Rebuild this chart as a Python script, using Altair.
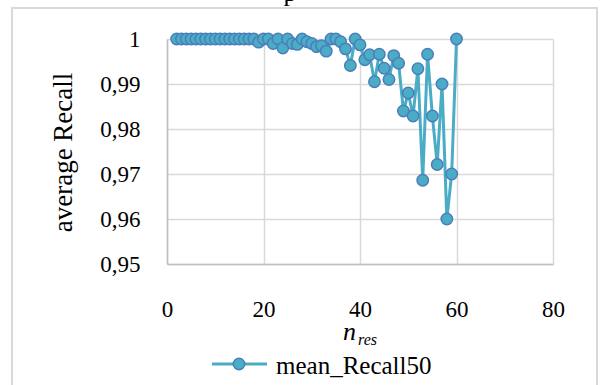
import altair as alt
import pandas as pd

# ---- data ----
n_res = [2, 3, 4, 5, 6, 7, 8, 9, 10, 11, 12, 13, 14, 15, 16, 17, 18, 19, 20,
         21, 22, 23, 24, 25, 26, 27, 28, 29, 30, 31, 32, 33, 34, 35, 36, 37, 38, 39, 40,
         41, 42, 43, 44, 45, 46, 47, 48, 49, 50, 51, 52, 53, 54, 55, 56, 57, 58, 59, 60]
recall = [1.0, 1.0, 1.0, 1.0, 1.0, 1.0, 1.0, 1.0, 1.0, 1.0, 1.0, 1.0, 1.0, 1.0, 1.0, 1.0, 1.0, 0.9993, 1.0,
          1.0, 0.999, 1.0, 0.998, 1.0, 0.999, 0.9988, 1.0, 0.9994, 0.999, 0.9983, 0.9985, 0.9973, 1.0, 1.0, 0.9994, 0.9978, 0.9941, 1.0, 0.9987,
          0.9954, 0.9965, 0.9905, 0.9966, 0.9935, 0.991, 0.9963, 0.9946, 0.984, 0.988, 0.9829, 0.9934, 0.9686, 0.9966, 0.9829, 0.9721, 0.990, 0.960, 0.970, 1.0]
y_ticks = [0.95, 0.96, 0.97, 0.98, 0.99, 1.0]
x_ticks = [0, 20, 40, 60, 80]
series_name = "mean_Recall50"
y_title = "average Recall"
x_title_main = "n"
x_title_sub = "res"
title_fragment = "p"

df = pd.DataFrame({"n_res": n_res, "recall": recall})
one = pd.DataFrame({"k": [0]})

FONT = "Liberation Serif"
LINE = "#4bacc6"
MARK_STROKE = "#4a7ebb"
GRID = "#d9d9d9"
AXIS = "#bfbfbf"

x_enc = alt.X(
    "n_res:Q",
    scale=alt.Scale(domain=[0, 80], nice=False, zero=False),
    axis=alt.Axis(values=x_ticks, title=None, grid=True, gridColor=GRID, gridWidth=1.5,
                  domainColor=AXIS, domainWidth=1.5, ticks=False,
                  labelFont=FONT, labelFontSize=23, labelColor="black",
                  labelPadding=52, labelBaseline="alphabetic", labelFlush=False),
)
y_enc = alt.Y(
    "recall:Q",
    scale=alt.Scale(domain=[0.95, 1.0], nice=False, zero=False),
    axis=alt.Axis(values=y_ticks, title=y_title, grid=True, gridColor=GRID, gridWidth=1.5,
                  domainColor=AXIS, domainWidth=1.5, ticks=False,
                  labelFont=FONT, labelFontSize=23, labelColor="black",
                  labelPadding=27, labelAlign="right", labelBaseline="middle",
                  labelExpr="replace(format(datum.value, '.2~f'), '.', ',')",
                  titleFont=FONT, titleFontSize=27, titleFontWeight="normal", titleColor="black",
                  titleAngle=270, titleX=-104, titleY=113, titleAlign="center", titleBaseline="middle"),
)

line = alt.Chart(df).mark_line(color=LINE, strokeWidth=3).encode(x=x_enc, y=y_enc)
pts = alt.Chart(df).mark_point(filled=True, fill=LINE, stroke=MARK_STROKE, strokeWidth=1.5,
                               size=130, opacity=1).encode(x="n_res:Q", y="recall:Q")

border = alt.Chart(one).mark_rect(fillOpacity=0, stroke=GRID, strokeWidth=2).encode(
    x=alt.value(-155), x2=alt.value(430), y=alt.value(-31), y2=alt.value(360))

frag = alt.Chart(one).mark_text(align="center", baseline="alphabetic", font=FONT, fontSize=26,
                                color="black").encode(
    x=alt.value(123), y=alt.value(-38.5), text=alt.value(title_fragment))

xt_main = alt.Chart(one).mark_text(align="left", baseline="alphabetic", font=FONT, fontSize=26,
                                   fontStyle="italic", color="black").encode(
    x=alt.value(176), y=alt.value(300.5), text=alt.value(x_title_main))
xt_sub = alt.Chart(one).mark_text(align="left", baseline="alphabetic", font=FONT, fontSize=16,
                                  fontStyle="italic", color="black").encode(
    x=alt.value(191), y=alt.value(306), text=alt.value(x_title_sub))

leg_line = alt.Chart(one).mark_rule(color=LINE, strokeWidth=3).encode(
    x=alt.value(45), x2=alt.value(100), y=alt.value(325))
leg_pt = alt.Chart(one).mark_point(filled=True, fill=LINE, stroke=MARK_STROKE, strokeWidth=1.5,
                                   size=130, opacity=1).encode(x=alt.value(72), y=alt.value(325))
leg_txt = alt.Chart(one).mark_text(align="left", baseline="alphabetic", font=FONT, fontSize=25,
                                   color="black").encode(
    x=alt.value(109), y=alt.value(334.5), text=alt.value(series_name))

chart = alt.layer(border, frag, line, pts, xt_main, xt_sub, leg_line, leg_pt, leg_txt).properties(
    width=386, height=225,
    autosize=alt.AutoSizeParams(type="none"),
    padding={"left": 167, "top": 39, "right": 52, "bottom": 121},
    background="white",
).configure_view(strokeWidth=0)

chart.save("out.html", embed_options={"renderer": "svg", "actions": False})
